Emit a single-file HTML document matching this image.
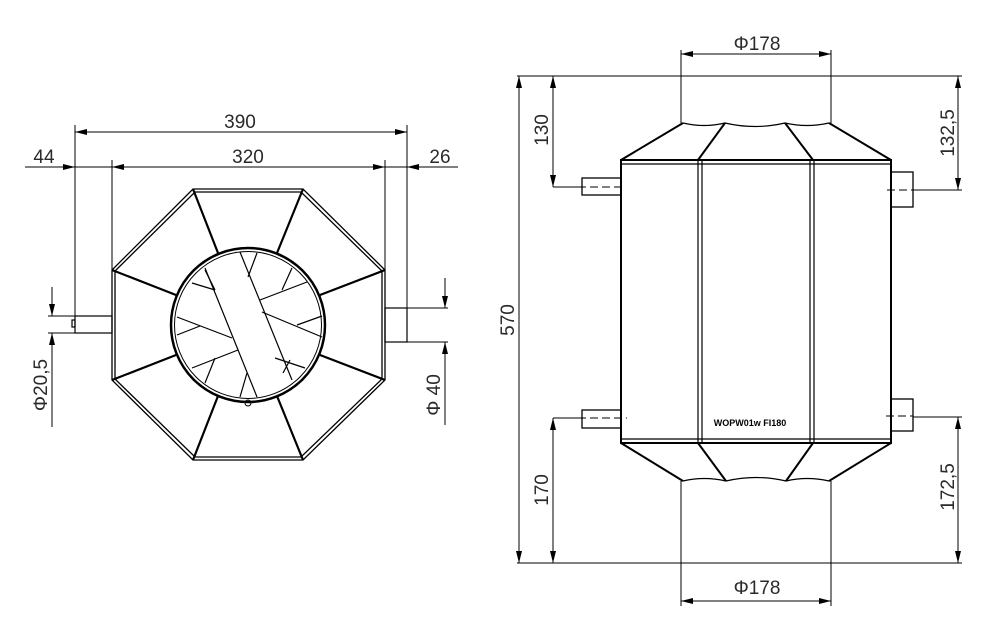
<!DOCTYPE html>
<html><head><meta charset="utf-8"><style>
html,body{margin:0;padding:0;background:#fff;}
svg{display:block}
text{font-family:"Liberation Sans",sans-serif;font-size:19px;fill:#2a2a2a}
</style></head><body>
<svg width="989" height="619" viewBox="0 0 989 619" xmlns="http://www.w3.org/2000/svg">
<defs>
<marker id="a" viewBox="0 0 12 6" refX="12" refY="3" markerWidth="12" markerHeight="6" orient="auto-start-reverse" markerUnits="userSpaceOnUse"><path d="M0,0 L12,3 L0,6 z" fill="#000"/></marker>
</defs>
<g stroke="#000" fill="none">
<!-- LEFT VIEW -->
<!-- dimension lines -->
<g stroke-width="1">
<line x1="75" y1="132" x2="407" y2="132" marker-start="url(#a)" marker-end="url(#a)"/>
<line x1="75" y1="125" x2="75" y2="333"/>
<line x1="407" y1="125" x2="407" y2="342"/>
<line x1="25" y1="167" x2="75" y2="167" marker-end="url(#a)"/>
<line x1="458" y1="167" x2="407" y2="167" marker-end="url(#a)"/>
<line x1="75" y1="167" x2="407" y2="167"/>
<line x1="112" y1="167" x2="385" y2="167" marker-start="url(#a)" marker-end="url(#a)"/>
<line x1="112" y1="160" x2="112" y2="270"/>
<line x1="385" y1="160" x2="385" y2="270"/>
<!-- phi 20,5 -->
<line x1="48" y1="316" x2="112" y2="316"/>
<line x1="48" y1="333" x2="75" y2="333"/>
<line x1="52" y1="287" x2="52" y2="316" marker-end="url(#a)"/>
<line x1="52" y1="427" x2="52" y2="333" marker-end="url(#a)"/>
<!-- phi 40 -->
<line x1="385" y1="308" x2="448" y2="308"/>
<line x1="385" y1="342" x2="448" y2="342"/>
<line x1="445" y1="278" x2="445" y2="308" marker-end="url(#a)"/>
<line x1="445" y1="425" x2="445" y2="342" marker-end="url(#a)"/>
</g>
<!-- pipes -->
<g stroke-width="1.2">
<rect x="75" y="316" width="37" height="17"/>
<rect x="385" y="308" width="22" height="34"/>
<rect x="72" y="320" width="3" height="7"/>
</g>
<!-- octagon double edges -->
<g stroke-width="1.3">
<polygon points="193,189 303,189 385,270 385,380 303,460 193,460 112,380 112,270"/>
<polygon points="195,192 301,192 382,271 382,379 301,457 195,457 115,379 115,271"/>
</g>
<!-- spokes -->
<g stroke-width="2.2">
<line x1="193" y1="189" x2="218" y2="253"/>
<line x1="303" y1="189" x2="277" y2="253"/>
<line x1="385" y1="270" x2="320" y2="295"/>
<line x1="385" y1="380" x2="320" y2="355"/>
<line x1="303" y1="460" x2="277" y2="396"/>
<line x1="193" y1="460" x2="218" y2="396"/>
<line x1="112" y1="380" x2="176" y2="355"/>
<line x1="112" y1="270" x2="176" y2="295"/>
</g>
<circle cx="248" cy="325" r="77" stroke-width="2.5"/>
<circle cx="248" cy="325" r="73.5" stroke-width="1"/>
<circle cx="248" cy="403" r="3" stroke-width="1"/>
<!-- inner band and blades -->
<g stroke-width="1.2">
<line x1="205" y1="268" x2="257" y2="397"/>
<line x1="240" y1="252" x2="292" y2="380"/>
<line x1="177" y1="317" x2="232" y2="338"/>
<line x1="177" y1="335" x2="200" y2="326"/>
<line x1="192" y1="283" x2="215" y2="290"/>
<line x1="215" y1="290" x2="205" y2="270"/>
<line x1="192" y1="368" x2="238" y2="350"/>
<line x1="205" y1="383" x2="215" y2="358"/>
<line x1="260" y1="300" x2="307" y2="282"/>
<line x1="282" y1="290" x2="292" y2="268"/>
<line x1="262" y1="312" x2="322" y2="337"/>
<line x1="297" y1="325" x2="322" y2="316"/>
<line x1="275" y1="358" x2="305" y2="368"/>
<line x1="283" y1="373" x2="290" y2="360"/>
<line x1="247" y1="373" x2="240" y2="397"/>
<line x1="257" y1="253" x2="248" y2="277"/>
</g>

<!-- RIGHT VIEW -->
<g stroke-width="1">
<line x1="517" y1="76" x2="962" y2="76"/>
<line x1="517" y1="563" x2="962" y2="563"/>
<line x1="519" y1="76" x2="519" y2="563" marker-start="url(#a)" marker-end="url(#a)"/>
<line x1="553" y1="76" x2="553" y2="187" marker-start="url(#a)" marker-end="url(#a)"/>
<line x1="553" y1="418" x2="553" y2="563" marker-start="url(#a)" marker-end="url(#a)"/>
<line x1="958" y1="76" x2="958" y2="190" marker-start="url(#a)" marker-end="url(#a)"/>
<line x1="958" y1="417" x2="958" y2="563" marker-start="url(#a)" marker-end="url(#a)"/>
<line x1="553" y1="187" x2="578" y2="187"/>
<line x1="553" y1="418" x2="578" y2="418"/>
<line x1="913" y1="190" x2="962" y2="190"/>
<line x1="913" y1="417" x2="962" y2="417"/>
<line x1="681" y1="50" x2="681" y2="123"/>
<line x1="831" y1="50" x2="831" y2="123"/>
<line x1="681" y1="54" x2="831" y2="54" marker-start="url(#a)" marker-end="url(#a)"/>
<line x1="681" y1="481" x2="681" y2="606"/>
<line x1="831" y1="481" x2="831" y2="606"/>
<line x1="681" y1="601" x2="831" y2="601" marker-start="url(#a)" marker-end="url(#a)"/>
<!-- dashed centerlines -->
<line x1="578" y1="187" x2="624" y2="187" stroke-dasharray="8,4"/>
<line x1="578" y1="418" x2="627" y2="418" stroke-dasharray="8,4"/>
<line x1="887" y1="190" x2="913" y2="190" stroke-dasharray="8,4"/>
<line x1="886" y1="416" x2="913" y2="416" stroke-dasharray="8,4"/>
</g>
<g stroke-width="1.3">
<!-- pipes -->
<rect x="582" y="178" width="39" height="17"/>
<rect x="582" y="410" width="39" height="18"/>
<rect x="891" y="172" width="22" height="35"/>
<rect x="891" y="399" width="22" height="32"/>
</g>
<g stroke-width="2">
<rect x="621" y="160" width="270" height="283"/>
<!-- top cone -->
<line x1="621" y1="160" x2="683" y2="123"/>
<line x1="698" y1="160" x2="725" y2="123"/>
<line x1="813" y1="160" x2="785" y2="123"/>
<line x1="891" y1="160" x2="829" y2="123"/>
<!-- bottom cone -->
<line x1="621" y1="443" x2="683" y2="481"/>
<line x1="698" y1="443" x2="726" y2="481"/>
<line x1="813" y1="443" x2="786" y2="481"/>
<line x1="891" y1="443" x2="829" y2="481"/>
</g>
<g stroke-width="1.2">
<line x1="621" y1="164" x2="891" y2="164"/>
<line x1="621" y1="439" x2="891" y2="439"/>
<line x1="698" y1="160" x2="698" y2="443"/>
<line x1="702" y1="160" x2="702" y2="443"/>
<line x1="810" y1="160" x2="810" y2="443"/>
<line x1="814" y1="160" x2="814" y2="443"/>
<path d="M683,123 Q704,128 725,123 Q755,130 785,123 Q807,128 829,123"/>
<path d="M683,481 Q704,476 726,481 Q756,474 786,481 Q807,476 829,481"/>
</g>
</g>
<!-- texts -->
<text x="240" y="128" text-anchor="middle">390</text>
<text x="248" y="163" text-anchor="middle">320</text>
<text x="44" y="163" text-anchor="middle">44</text>
<text x="440" y="163" text-anchor="middle">26</text>
<text transform="translate(47,385) rotate(-90)" text-anchor="middle">Φ20,5</text>
<text transform="translate(440,395) rotate(-90)" text-anchor="middle">Φ 40</text>
<text x="757" y="50" text-anchor="middle">Φ178</text>
<text x="757" y="594" text-anchor="middle">Φ178</text>
<text transform="translate(514,320) rotate(-90)" text-anchor="middle">570</text>
<text transform="translate(548,130) rotate(-90)" text-anchor="middle">130</text>
<text transform="translate(548,490) rotate(-90)" text-anchor="middle">170</text>
<text transform="translate(954,133) rotate(-90)" text-anchor="middle">132,5</text>
<text transform="translate(954,487) rotate(-90)" text-anchor="middle">172,5</text>
<text x="750" y="426" text-anchor="middle" style="font-size:9px;font-weight:bold;fill:#000">WOPW01w FI180</text>
</svg>
</body></html>
